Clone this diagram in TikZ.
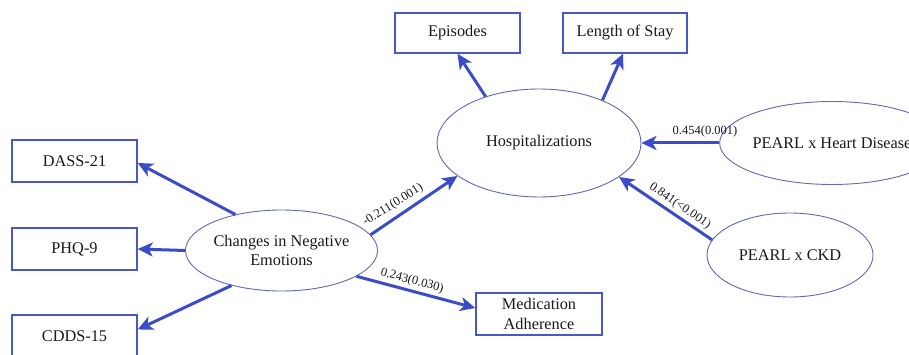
\documentclass[tikz,border=0pt]{standalone}
\usepackage{fontspec}
\setmainfont{Liberation Serif}
\usetikzlibrary{arrows.meta,shapes.geometric}
\definecolor{arr}{HTML}{3A4CC8}
\definecolor{boxc}{HTML}{4A57C6}
\definecolor{ellc}{HTML}{6068B8}
\definecolor{txt}{HTML}{1A1A1A}
\begin{document}
\begin{tikzpicture}[x=1pt,y=-1pt,
  boxn/.style={draw=boxc,line width=1.4pt,rectangle,minimum width=125pt,minimum height=42pt,inner sep=0pt,
    font=\fontsize{16.3}{19.5}\selectfont,align=center,text=txt},
  ell/.style={draw=ellc,line width=0.9pt,ellipse,inner sep=0pt,
    font=\fontsize{16.3}{19.5}\selectfont,align=center,text=txt},
  arrow/.style={draw=arr,line width=3pt,-{Stealth[length=15pt,width=14pt,inset=4pt]}},
  lab/.style={font=\fontsize{12.5}{14}\selectfont,inner sep=0pt,text=txt}]
\useasboundingbox (0,0) rectangle (909,355);
\clip (0,0) rectangle (909,355);
\fill[white] (0,0) rectangle (909,355);
% boxes
\node[boxn,minimum height=40pt] (eps) at (457.5,33) {Episodes};
\node[boxn,minimum width=124pt,minimum height=40pt] (los) at (625,33) {Length of Stay};
\node[boxn] (dass) at (74.5,161) {DASS-21};
\node[boxn] (phq) at (74.5,249) {PHQ-9};
\node[boxn,minimum height=43pt] (cdds) at (74.5,336.5) {CDDS-15};
\node[boxn,minimum width=126pt] (med) at (539,314) {Medication\\Adherence};
% ellipses
\node[ell,minimum width=204pt,minimum height=108pt] (hosp) at (539,143) {Hospitalizations};
\node[ell,minimum width=167pt,minimum height=81pt] (chg) at (281.5,250.5) {Changes in Negative\\Emotions};
\node[ell,minimum width=166pt,minimum height=84pt] (ckd) at (790,255) {PEARL x CKD};
\node[ell,minimum width=160pt,minimum height=83pt] (hd) at (832,143) {PEARL x Heart Disease};
% arrows
\draw[arrow] (hosp.139.6) -- (eps.south);
\draw[arrow] (hosp.34.5) -- ([xshift=-2pt]los.south);
\draw[arrow] (chg.142.6) -- ([yshift=-2pt]dass.east);
\draw[arrow] (chg.180) -- (phq.east);
\draw[arrow] (chg.215.8) -- ([yshift=7pt]cdds.east);
\draw[arrow] (chg.10.8) -- (hosp.202.6);
\draw[arrow] (chg.341) -- ([yshift=6pt]med.west);
\draw[arrow] (hd.west) -- (hosp.east);
\draw[arrow] (ckd.169) -- (hosp.337.1);
% labels
\node[lab,rotate=32] (l1) at (393,205) {-0.211(0.001)};
\node[lab,rotate=-15] (l2) at (412,281) {0.243(0.030)};
\node[lab] (l3) at (705,131) {0.454(0.001)};
\node[lab,rotate=-34.6] (l4) at (680,206) {0.841(<0.001)};
\end{tikzpicture}
\end{document}
